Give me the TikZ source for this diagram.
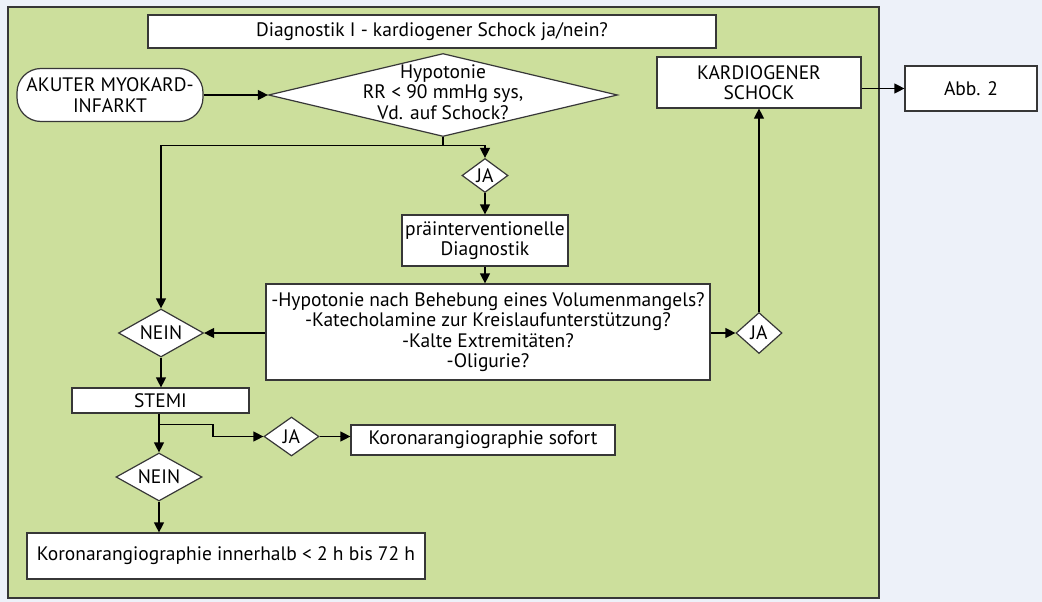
\documentclass[tikz,border=0pt]{standalone}
\usepackage{fontspec}
\setmainfont{PT Sans}
\usetikzlibrary{arrows.meta}
\usetikzlibrary{shapes.geometric}

\definecolor{pagegrey}{RGB}{237,241,249}
\definecolor{panelgreen}{RGB}{204,223,156}
\definecolor{edgegrey}{RGB}{55,55,55}

% text that does not widen the diamond round it
\newcommand{\flattext}[1]{\smash{\makebox[0pt]{\raisebox{-5pt}{\begin{tabular}{@{}c@{}}#1\end{tabular}}}}}

\tikzset{
  box/.style={draw=edgegrey, fill=white, shape=rectangle, line width=1.2pt, inner sep=2pt, align=center},
  choice/.style={draw=edgegrey, fill=white, shape=diamond, line width=1.2pt, inner sep=0pt},
  flow/.style={-{Triangle[length=10pt,width=10pt]}, line width=1.2pt},
}

\begin{document}
\begin{tikzpicture}[x=1pt, y=-1pt, font=\fontsize{19.5}{20.5}\selectfont]
\fill [pagegrey] (0,0) rectangle (1042,602);
\draw [edgegrey, fill=panelgreen, line width=1.2pt] (8,7) rectangle (879,598);

\node [box, minimum width=568pt, minimum height=33pt] (title) at (432,31.5) {Diagnostik I - kardiogener Schock ja/nein?};
\node [box, rounded corners=24pt, minimum width=186pt, minimum height=53pt] (start) at (110,95) {AKUTER MYOKARD-\\INFARKT};
\node [choice, aspect=4.2, minimum width=349pt, minimum height=83pt] (hypo) at (443,95) {\flattext{Hypotonie\\RR < 90 mmHg sys,\\Vd. auf Schock?}};
\node [choice, aspect=1.35, minimum width=46pt, minimum height=34pt] (ja1) at (485,175.5) {JA};
\node [box, minimum width=166pt, minimum height=51pt] (prae) at (485,240.5) {präinterventionelle\\Diagnostik};
\node [box, minimum width=444pt, minimum height=96pt] (quest) at (488,332) {-Hypotonie nach Behebung eines Volumenmangels?\\-Katecholamine zur Kreislaufunterstützung?\\-Kalte Extremitäten?\\-Oligurie?};
\node [choice, aspect=1.77, minimum width=85pt, minimum height=48pt] (nein1) at (161,333) {NEIN};
\node [choice, aspect=1.12, minimum width=46pt, minimum height=41pt] (ja2) at (759,333) {JA};
\node [box, minimum width=204pt, minimum height=51pt] (kardio) at (759,82.5) {KARDIOGENER\\SCHOCK};
\node [box, minimum width=132pt, minimum height=45pt] (abb) at (971,88.5) {Abb. 2};
\node [box, minimum width=177pt, minimum height=25pt, inner sep=0pt] (stemi) at (160.5,400.5) {STEMI};
\node [choice, aspect=1.41, minimum width=55pt, minimum height=39pt] (ja3) at (291.5,436.5) {JA};
\node [box, minimum width=264pt, minimum height=30pt] (sofort) at (483,440) {Koronarangiographie sofort};
\node [choice, aspect=1.79, minimum width=86pt, minimum height=48pt] (nein2) at (159,477) {NEIN};
\node [box, minimum width=398pt, minimum height=46pt] (final) at (226,556) {Koronarangiographie innerhalb < 2 h bis 72 h};

\draw [flow] (start) -- (hypo);
\draw [line width=1.2pt] (hypo.south) -- ++(0,8) coordinate (fork);
\draw [flow] (fork) -| (ja1.north);
\draw [flow] (fork) -| (nein1.north);
\draw [flow] (ja1) -- (prae);
\draw [flow] (prae.south) -- (prae.south |- quest.north);
\draw [flow] (quest.west |- nein1) -- (nein1.east);
\draw [flow] (quest.east |- ja2) -- (ja2.west);
\draw [flow] (ja2.north) -- (kardio.south);
\draw [flow] (kardio.east |- abb) -- (abb.west);
\draw [flow] (nein1.south) -- (nein1.south |- stemi.north);
\draw [flow] (stemi.south -| nein2) -- (nein2.north);
\path (stemi.south -| nein2) ++(0,11) coordinate (bend);
\draw [flow] (bend) -- ++(54,0) |- (ja3.west);
\draw [flow] (ja3.east) -- (ja3.east -| sofort.west);
\draw [flow] (nein2.south) -- (nein2.south |- final.north);
\end{tikzpicture}
\end{document}
